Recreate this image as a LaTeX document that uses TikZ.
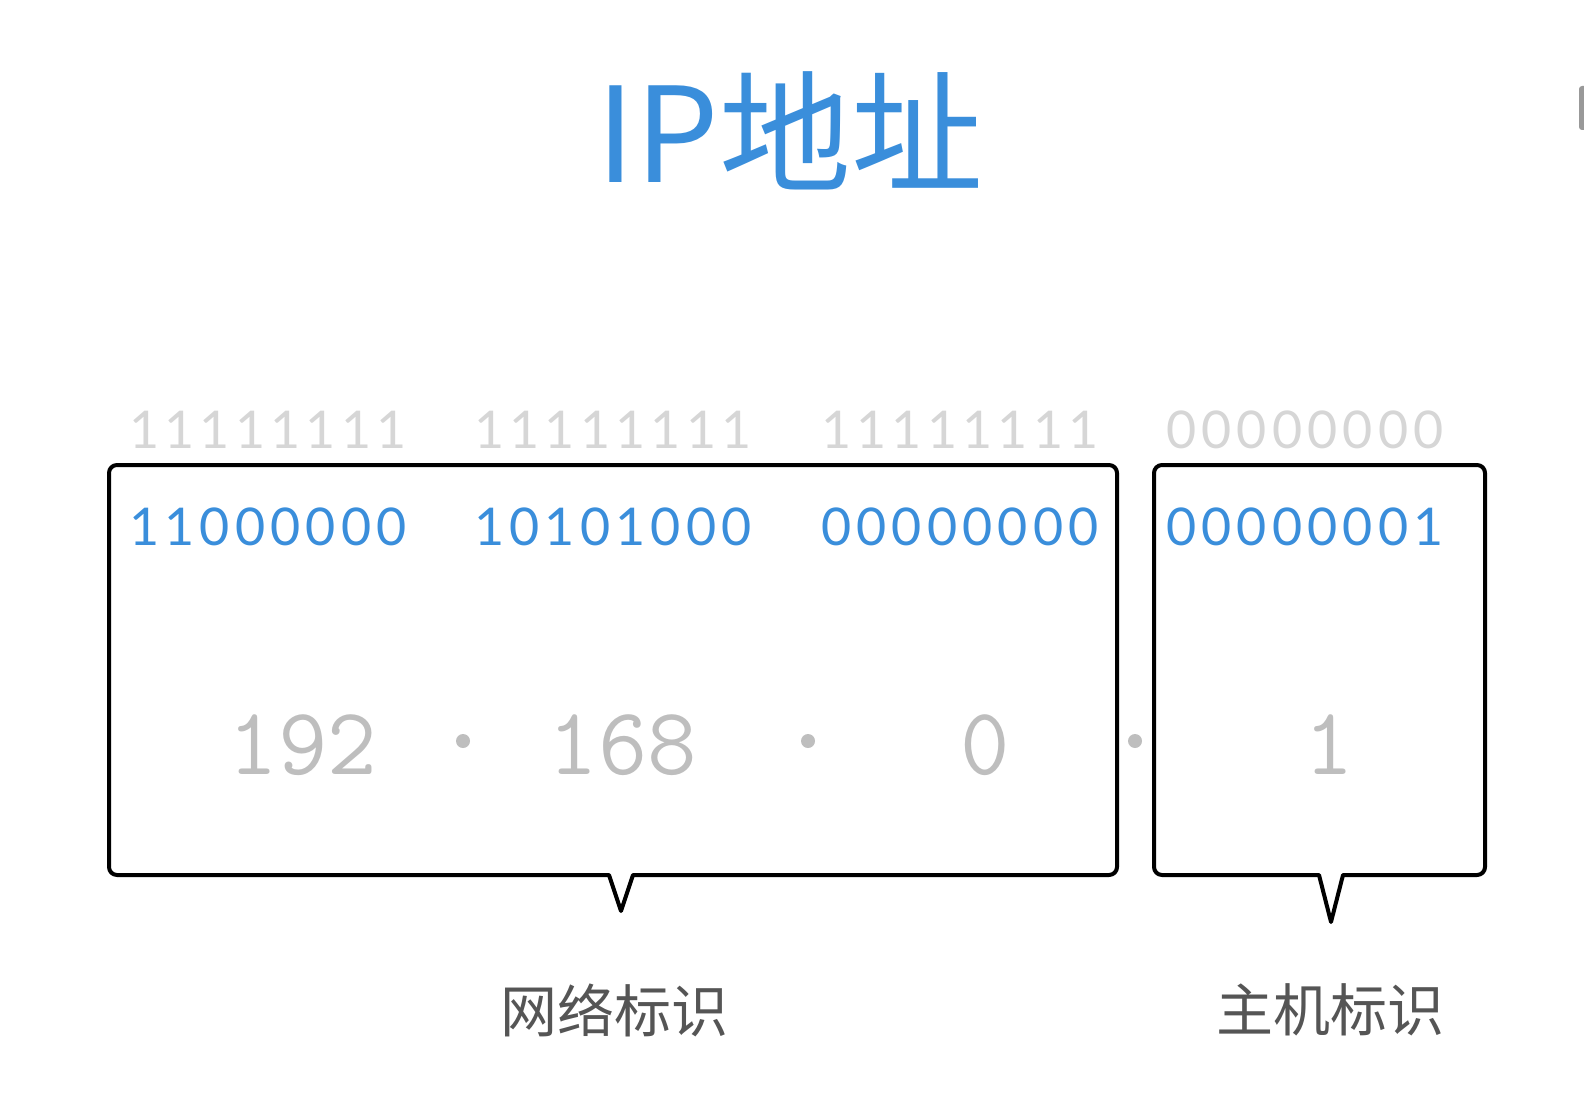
\documentclass[tikz,border=0pt]{standalone}
\usepackage{fontspec}
\newfontfamily\cjk{Noto Sans CJK SC}
\newfontfamily\bitfont[Numbers=Monospaced,LetterSpace=10]{Lato}
\definecolor{ipblue}{HTML}{3A8EDB}
\definecolor{maskgray}{HTML}{D6D6D6}
\definecolor{decgray}{HTML}{BEBEBE}
\definecolor{labelgray}{HTML}{555555}

\begin{document}
\begin{tikzpicture}[
  title/.style={font=\cjk\fontsize{132}{132}\selectfont,text=ipblue},
  mask/.style={font=\bitfont\fontsize{52}{52}\selectfont,text=maskgray},
  bits/.style={font=\bitfont\fontsize{52}{52}\selectfont,text=ipblue},
  dec/.style={font=\ttfamily\fontsize{96}{96}\selectfont,text=decgray},
  sep/.style={circle,fill=decgray,inner sep=0pt,minimum size=14pt},
  part/.style={font=\cjk\fontsize{57}{57}\selectfont,text=labelgray},
  frame/.style={line width=4pt,line join=round},
  x=1pt,y=-1pt
]
  \useasboundingbox (0,0) rectangle (1584,1094);

  \node[title] (ttl) at (790,131) {IP地址};
  \fill[gray!80,rounded corners=3pt] (1579,86) rectangle (1592,130);

  % mask and address bits
  \foreach \cx/\m/\b [count=\i] in {268/11111111/11000000,613/11111111/10101000,
                                    960/11111111/00000000,1305/00000000/00000001} {
    \node[mask] (mask\i) at (\cx,430) {\m};
    \node[bits] (bits\i) at (\cx,527) {\b};
  }

  % dotted decimal
  \foreach \cx/\d [count=\i] in {303/192,623/168,985/0,1329/1}
    \node[dec] (dec\i) at (\cx,745) {\d};
  \foreach \cx [count=\i] in {463,808,1135}
    \node[sep] (dot\i) at (\cx,741) {};

  % callouts
  \coordinate (nettip) at (621,911);
  \coordinate (hosttip) at (1331,922);
  \draw[frame] (nettip) -- (609,875) [rounded corners=8pt] -- (109,875) -- (109,465)
    -- (1117,465) -- (1117,875) [sharp corners] -- (633,875) -- cycle;
  \draw[frame] (hosttip) -- (1319,875) [rounded corners=8pt] -- (1154,875) -- (1154,465)
    -- (1485,465) -- (1485,875) [sharp corners] -- (1343,875) -- cycle;

  \node[part] (net) at (614,1010) {网络标识};
  \node[part] (host) at (1330,1010) {主机标识};
\end{tikzpicture}
\end{document}
